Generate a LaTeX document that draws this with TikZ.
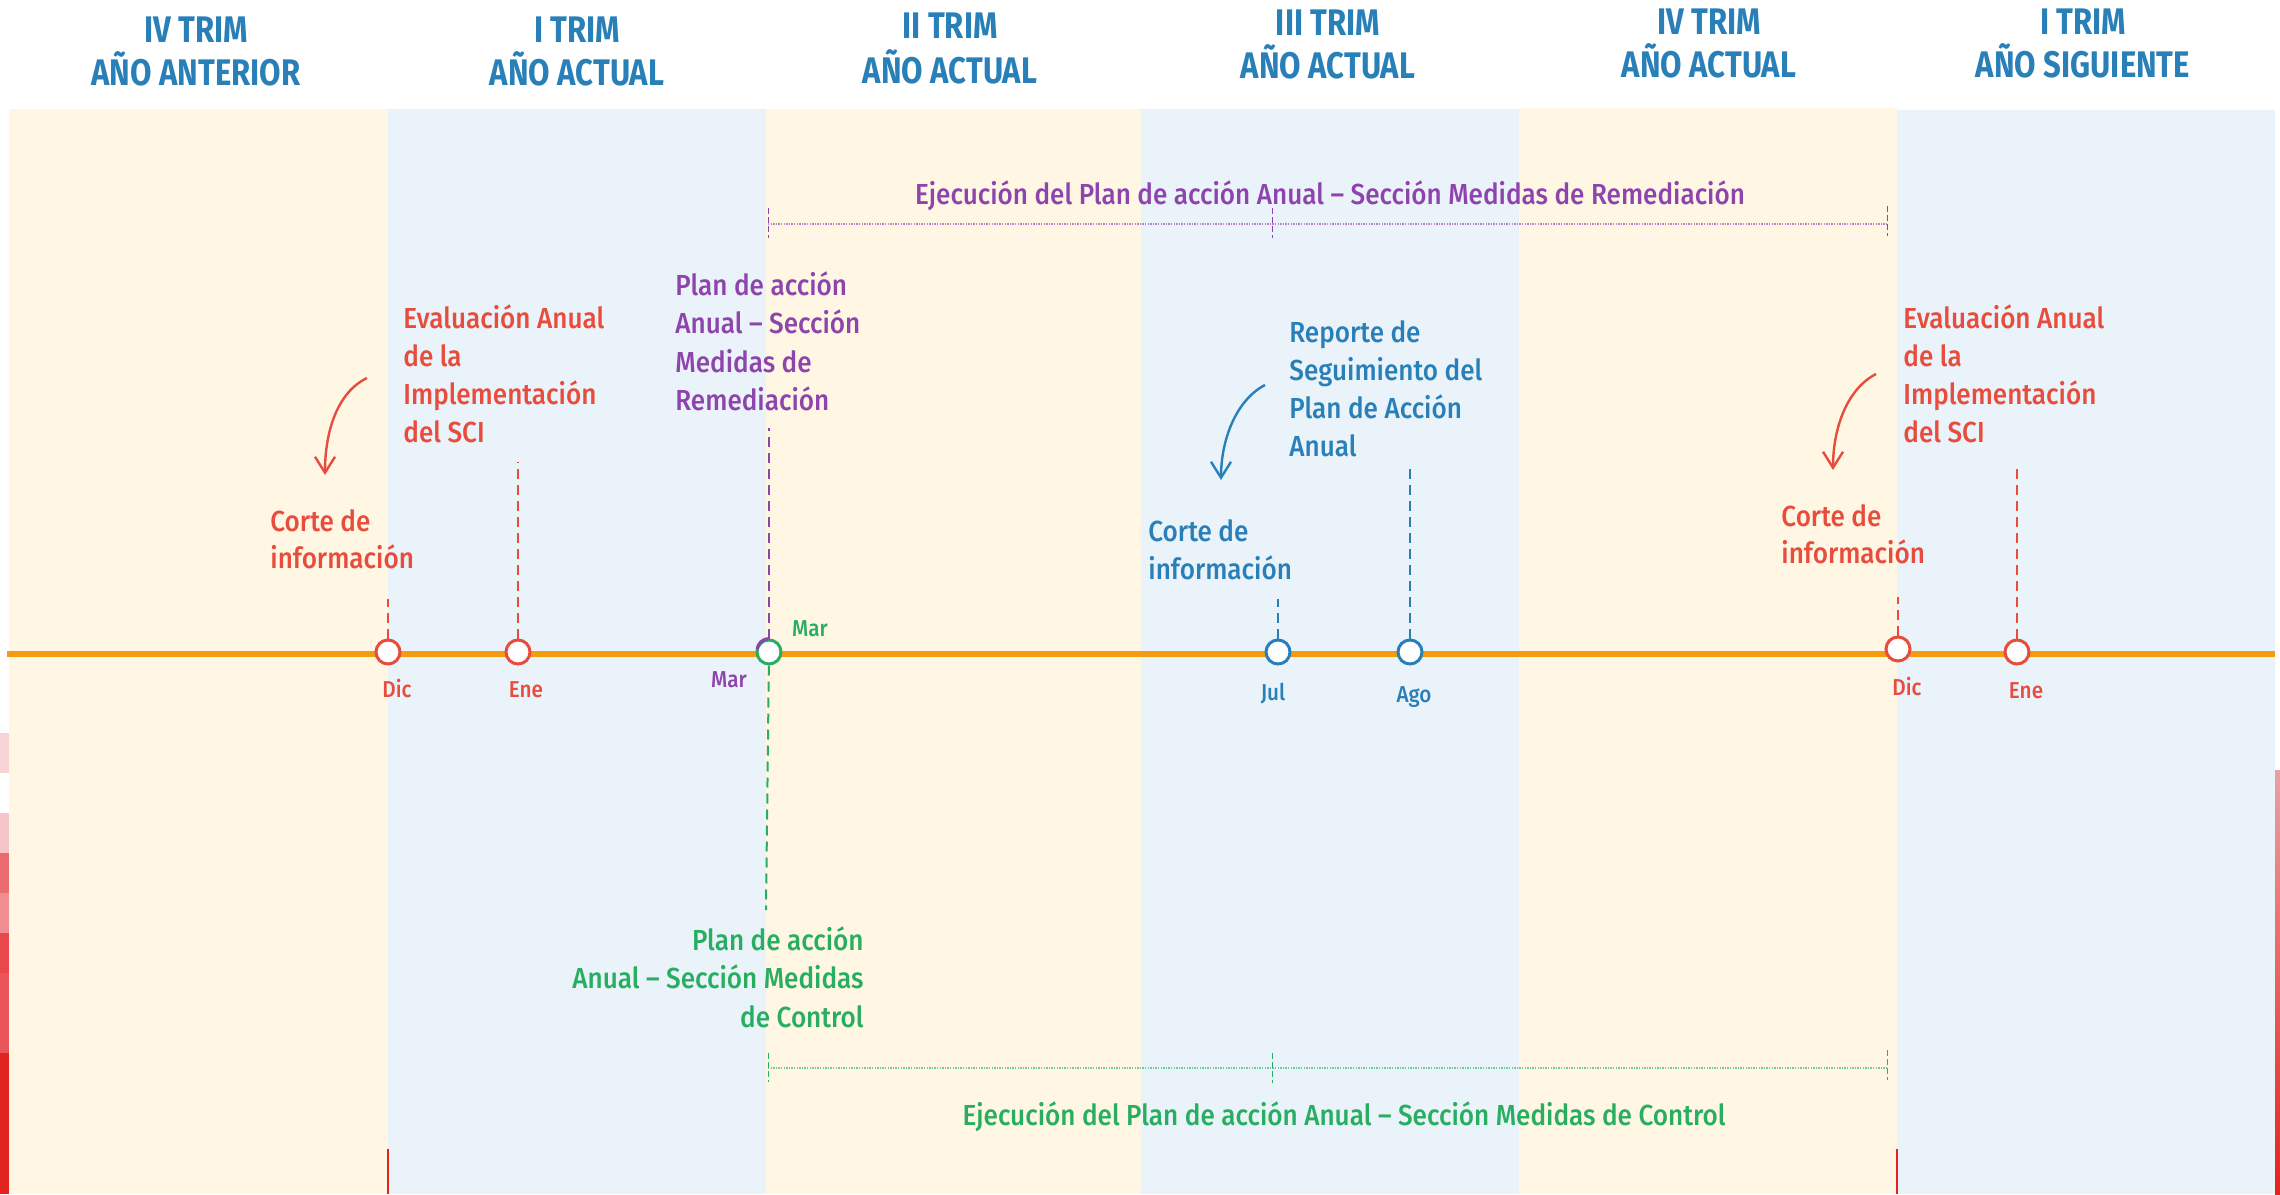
\documentclass[tikz,border=0pt]{standalone}
\usepackage{fontspec}
\setmainfont{Fira Sans}[UprightFont=* Medium,FakeStretch=0.9]
\newfontfamily\headfont{Fira Sans}[UprightFont=* Bold,FakeStretch=0.84]
\usetikzlibrary{arrows.meta,calc}

\definecolor{cream}{RGB}{255,247,228}
\definecolor{pale}{RGB}{235,243,250}
\definecolor{tred}{RGB}{231,76,60}
\definecolor{tblue}{RGB}{41,128,185}
\definecolor{tpurple}{RGB}{142,68,173}
\definecolor{tgreen}{RGB}{39,174,96}
\definecolor{torange}{RGB}{243,156,18}
\definecolor{edgeA}{RGB}{248,211,214}
\definecolor{edgeB}{RGB}{246,197,201}
\definecolor{edgeC}{RGB}{236,107,111}
\definecolor{edgeD}{RGB}{241,141,146}
\definecolor{edgeE}{RGB}{233,71,76}
\definecolor{edgeF}{RGB}{234,85,89}
\definecolor{edgeG}{RGB}{227,35,30}
\definecolor{edgeP}{RGB}{235,160,165}

\tikzset{
  lbl/.style={inner sep=0pt, font=\fontsize{14.5}{17}\selectfont},
  mon/.style={inner sep=0pt, anchor=base, font=\fontsize{11.5}{13}\selectfont},
  hd/.style={inner sep=0pt, anchor=base, text=tblue,
             font=\headfont\fontsize{18.5}{20}\selectfont},
  ev/.style={circle, fill=white, line width=1.5pt, minimum size=12pt, inner sep=0pt},
  guide/.style={line width=1pt, dash pattern=on 5pt off 3pt},
  curvy/.style={line width=1.2pt, -{Straight Barb[length=8pt,width=10pt]}},
  span/.style={line width=0.8pt, dash pattern=on 0.7pt off 0.6pt},
  spantick/.style={line width=0.5pt, dash pattern=on 3pt off 1.5pt},
}

\begin{document}
\begin{tikzpicture}[x=0.5pt,y=-0.5pt]
\useasboundingbox (0,0) rectangle (2280,1194);
\fill[white] (0,0) rectangle (2280,1194);

% quarter bands
\fill[cream] (9,109) rectangle (388,1194);
\fill[pale]  (388,109) rectangle (766,1194);
\fill[cream] (766,109) rectangle (1141,1194);
\fill[pale]  (1141,109) rectangle (1519,1194);
\fill[cream] (1519,108) rectangle (1897,1194);
\fill[pale]  (1897,110) rectangle (2275,1194);

% page edge marks
\fill[edgeA] (0,733) rectangle (9,773);
\fill[edgeB] (0,813) rectangle (9,853);
\fill[edgeC] (0,853) rectangle (9,893);
\fill[edgeD] (0,893) rectangle (9,933);
\fill[edgeE] (0,933) rectangle (9,973);
\fill[edgeF] (0,973) rectangle (9,1053);
\fill[edgeG] (0,1053) rectangle (9,1194);
\shade[top color=edgeP, bottom color=edgeG] (2275,770) rectangle (2280,1194);
\draw[edgeG, line width=0.6pt] (388,1149) -- (388,1194);
\draw[edgeG, line width=0.6pt] (1897,1149) -- (1897,1194);

% quarter headings
\node[hd] (h1a) at (196,42) {IV TRIM};
\node[hd] (h1b) at (196,85) {AÑO ANTERIOR};
\node[hd] (h2a) at (577,42) {I TRIM};
\node[hd] (h2b) at (577,85) {AÑO ACTUAL};
\node[hd] (h3a) at (950,39) {II TRIM};
\node[hd] (h3b) at (950,83) {AÑO ACTUAL};
\node[hd] (h4a) at (1328,35) {III TRIM};
\node[hd] (h4b) at (1328,78) {AÑO ACTUAL};
\node[hd] (h5a) at (1709,34) {IV TRIM};
\node[hd] (h5b) at (1709,77) {AÑO ACTUAL};
\node[hd] (h6a) at (2083,34) {I TRIM};
\node[hd] (h6b) at (2083,77) {AÑO SIGUIENTE};

% time axis
\coordinate (axL) at (7,654);
\coordinate (axR) at (2275,654);
\draw[torange, line width=3pt] (axL) -- (axR);

% milestones
\node[ev, draw=tred]    (dicA) at (388,652) {};
\node[ev, draw=tred]    (eneA) at (518,652) {};
\node[ev, draw=tgreen]  (marC) at (769,652) {};
\draw[tpurple, line width=1.5pt] (marC.north) arc[start angle=90, end angle=175, radius=6pt];
\node[ev, draw=tblue]   (julC) at (1278,652) {};
\node[ev, draw=tblue]   (agoC) at (1410,652) {};
\node[ev, draw=tred]    (dicB) at (1898,649) {};
\node[ev, draw=tred]    (eneB) at (2017,652) {};

% month labels
\node[mon, text=tred]    (mDicA) at (397,697) {Dic};
\node[mon, text=tred]    (mEneA) at (526,697) {Ene};
\node[mon, text=tpurple] (mMarP) at (729,687) {Mar};
\node[mon, text=tgreen]  (mMarG) at (810,636) {Mar};
\node[mon, text=tblue]   (mJul)  at (1273,700) {Jul};
\node[mon, text=tblue]   (mAgo)  at (1414,702) {Ago};
\node[mon, text=tred]    (mDicB) at (1907,695) {Dic};
\node[mon, text=tred]    (mEneB) at (2026,698) {Ene};

% leader ends
\coordinate (dicAtop) at (388,599);
\coordinate (eneAtop) at (518,462);
\coordinate (marTop)  at (769,428);
\coordinate (marBot)  at (766,910);
\coordinate (julTop)  at (1278,599);
\coordinate (agoTop)  at (1410,465);
\coordinate (dicBtop) at (1898,597);
\coordinate (eneBtop) at (2017,463);

\draw[guide, tred]    (dicA) -- (dicAtop);
\draw[guide, tred]    (eneA) -- (eneAtop);
\draw[guide, tpurple] (marC) -- (marTop);
\draw[guide, tgreen]  (marC) -- (marBot);
\draw[guide, tblue]   (julC) -- (julTop);
\draw[guide, tblue]   (agoC) -- (agoTop);
\draw[guide, tred]    (dicB) -- (dicBtop);
\draw[guide, tred]    (eneB) -- (eneBtop);

% labels
\foreach \t [count=\i from 0] in {Corte de,información}
  \node[lbl, text=tred, anchor=base west] (corteA\i) at (270,531+37*\i) {\t};
\foreach \t [count=\i from 0] in {Evaluación Anual,de la,Implementación,del SCI}
  \node[lbl, text=tred, anchor=base west] (evalA\i) at (403,328+38.3*\i) {\t};
\foreach \t [count=\i from 0] in {Plan de acción,Anual – Sección,Medidas de,Remediación}
  \node[lbl, text=tpurple, anchor=base west] (planR\i) at (675,295+38.5*\i) {\t};
\foreach \t [count=\i from 0] in {Reporte de,Seguimiento del,Plan de Acción,Anual}
  \node[lbl, text=tblue, anchor=base west] (rep\i) at (1289,342+38.3*\i) {\t};
\foreach \t [count=\i from 0] in {Corte de,información}
  \node[lbl, text=tblue, anchor=base west] (corteJ\i) at (1148,541+38*\i) {\t};
\foreach \t [count=\i from 0] in {Corte de,información}
  \node[lbl, text=tred, anchor=base west] (corteB\i) at (1781,526+37*\i) {\t};
\foreach \t [count=\i from 0] in {Evaluación Anual,de la,Implementación,del SCI}
  \node[lbl, text=tred, anchor=base west] (evalB\i) at (1903,328+38.3*\i) {\t};
\foreach \t [count=\i from 0] in {Plan de acción,Anual – Sección Medidas,de Control}
  \node[lbl, text=tgreen, anchor=base east] (planC\i) at (864,950+38.5*\i) {\t};

% curved pointers
\coordinate (arA0) at (367,378);
\coordinate (arA1) at (325,475);
\coordinate (arJ0) at (1265,385);
\coordinate (arJ1) at (1221,480);
\coordinate (arB0) at (1876,374);
\coordinate (arB1) at (1833,470);
\draw[curvy, tred]  (arA0) .. controls (338,392) and (325,430) .. (arA1);
\draw[curvy, tblue] (arJ0) .. controls (1236,400) and (1221,440) .. (arJ1);
\draw[curvy, tred]  (arB0) .. controls (1847,389) and (1833,428) .. (arB1);

% execution spans
\coordinate (rsL) at (768,224);
\coordinate (rsM) at (1272,224);
\coordinate (rsR) at (1887,224);
\draw[span, tpurple!65] (rsL) -- (rsR);
\draw[spantick, tpurple] ([yshift=8pt]rsL) -- ([yshift=-7pt]rsL);
\draw[spantick, tpurple] ([yshift=8pt]rsM) -- ([yshift=-7pt]rsM);
\draw[spantick, tpurple] ([yshift=9pt]rsR) -- ([yshift=-6pt]rsR);
\node[lbl, text=tpurple, anchor=base] (rsLbl) at (1330,204)
  {Ejecución del Plan de acción Anual – Sección Medidas de Remediación};

\coordinate (csL) at (768,1068);
\coordinate (csM) at (1272,1068);
\coordinate (csR) at (1887,1068);
\draw[span, tgreen!65] (csL) -- (csR);
\draw[spantick, tgreen] ([yshift=7.5pt]csL) -- ([yshift=-7pt]csL);
\draw[spantick, tgreen] ([yshift=7.5pt]csM) -- ([yshift=-7.5pt]csM);
\draw[spantick, tgreen] ([yshift=9pt]csR) -- ([yshift=-6pt]csR);
\node[lbl, text=tgreen, anchor=base] (csLbl) at (1344,1125)
  {Ejecución del Plan de acción Anual – Sección Medidas de Control};
\end{tikzpicture}
\end{document}
